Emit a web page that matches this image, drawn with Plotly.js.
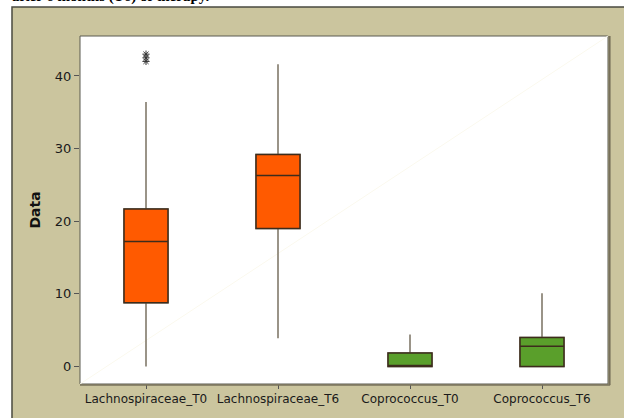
<!DOCTYPE html>
<html>
<head>
<meta charset="utf-8">
<script src="https://cdn.plot.ly/plotly-3.0.1.min.js"></script>
<style>html,body{margin:0;padding:0;background:#fff;}#chart{width:624px;height:418px;}</style>
</head>
<body>
<div id="chart"></div>
<script>
var categories = ['Lachnospiraceae_T0', 'Lachnospiraceae_T6', 'Coprococcus_T0', 'Coprococcus_T6'];
var q1Values = [8.8, 19.0, 0.0, 0.0];
var medianValues = [17.2, 26.3, 0.0, 2.8];
var q3Values = [21.7, 29.2, 1.85, 4.0];
var lowerWhisker = [0.0, 3.9, 0.0, 0.0];
var upperWhisker = [36.4, 41.6, 4.4, 10.1];
var outlierCategory = ['Lachnospiraceae_T0', 'Lachnospiraceae_T0', 'Lachnospiraceae_T0'];
var outlierValues = [42.0, 42.5, 43.0];
var yTicks = [0, 10, 20, 30, 40];

function pick(arr, idx) { return idx.map(function (i) { return arr[i]; }); }

// whisker layer (gray lines)
function whiskerTrace(idx) {
  return {
    type: 'box',
    x: pick(categories, idx),
    q1: pick(q1Values, idx), median: pick(medianValues, idx), q3: pick(q3Values, idx),
    lowerfence: pick(lowerWhisker, idx), upperfence: pick(upperWhisker, idx),
    fillcolor: 'rgba(0,0,0,0)',
    line: {color: '#7a7262', width: 1.5},
    whiskerwidth: 0, width: 0.333, boxpoints: false,
    hoverinfo: 'skip', showlegend: false
  };
}
// box layer (filled, dark outline)
function boxTrace(idx, color) {
  return {
    type: 'box',
    x: pick(categories, idx),
    q1: pick(q1Values, idx), median: pick(medianValues, idx), q3: pick(q3Values, idx),
    lowerfence: pick(q1Values, idx), upperfence: pick(q3Values, idx),
    fillcolor: color,
    line: {color: '#3d2c1c', width: 1.5},
    whiskerwidth: 0, width: 0.333, boxpoints: false,
    hoverinfo: 'skip', showlegend: false
  };
}

var traces = [
  whiskerTrace([0, 1, 2, 3]),
  boxTrace([0, 1], '#ff5a00'),
  boxTrace([2, 3], '#5a9f2b'),
  {
    type: 'scatter', mode: 'markers',
    x: outlierCategory, y: outlierValues,
    marker: {symbol: 'asterisk-open', size: 6, color: '#333', line: {color: '#333', width: 1}},
    showlegend: false, hoverinfo: 'skip'
  }
];

var layout = {
  width: 624, height: 418,
  margin: {l: 80, r: 16, t: 36, b: 34},
  paper_bgcolor: '#ffffff',
  plot_bgcolor: 'rgba(0,0,0,0)',
  boxmode: 'overlay',
  showlegend: false,
  font: {family: 'DejaVu Sans', color: '#222'},
  xaxis: {
    type: 'category', categoryorder: 'array', categoryarray: categories,
    range: [-0.5, 3.5],
    ticks: 'outside', ticklen: 4, tickcolor: '#555',
    tickfont: {size: 12, family: 'DejaVu Sans', color: '#1a1a1a'},
    showgrid: false, zeroline: false, showline: false
  },
  yaxis: {
    range: [-2.4, 45.5],
    tickvals: yTicks,
    ticks: 'outside', ticklen: 5, tickcolor: '#555',
    tickfont: {size: 13, family: 'DejaVu Sans', color: '#1a1a1a'},
    showgrid: false, zeroline: false, showline: false,
    title: {text: '<b>Data</b>', font: {size: 14, family: 'DejaVu Sans', color: '#111'}, standoff: 10}
  },
  shapes: [
    {type: 'rect', xref: 'paper', yref: 'paper', x0: -0.1288, x1: 1.05, y0: -0.12, y1: 1.0833,
     fillcolor: '#cbc59e', line: {color: '#4a4a40', width: 1.5}, layer: 'below'},
    {type: 'rect', xref: 'paper', yref: 'paper', x0: 0, x1: 1, y0: 0, y1: 1,
     fillcolor: '#ffffff', line: {color: '#5a5a50', width: 1}, layer: 'below'},
    {type: 'line', xref: 'paper', yref: 'paper', x0: 0, x1: 1, y0: 0, y1: 1,
     line: {color: '#fbf9ee', width: 1}, layer: 'below'},
    {type: 'line', xref: 'paper', yref: 'paper', x0: 1.003, x1: 1.003, y0: -0.003, y1: 1,
     line: {color: '#77705a', width: 2}, layer: 'above'},
    {type: 'line', xref: 'paper', yref: 'paper', x0: 0, x1: 1.004, y0: -0.003, y1: -0.003,
     line: {color: '#77705a', width: 1.5}, layer: 'above'}
  ],
  annotations: [
    {xref: 'paper', yref: 'paper', x: -0.1326, y: 1.0845, xanchor: 'left', yanchor: 'bottom',
     text: '<b>after 6 months (T6) of therapy.</b>', showarrow: false,
     font: {family: 'Liberation Serif', size: 15, color: '#000'}}
  ]
};

Plotly.newPlot('chart', traces, layout, {displayModeBar: false, staticPlot: true});
</script>
</body>
</html>
